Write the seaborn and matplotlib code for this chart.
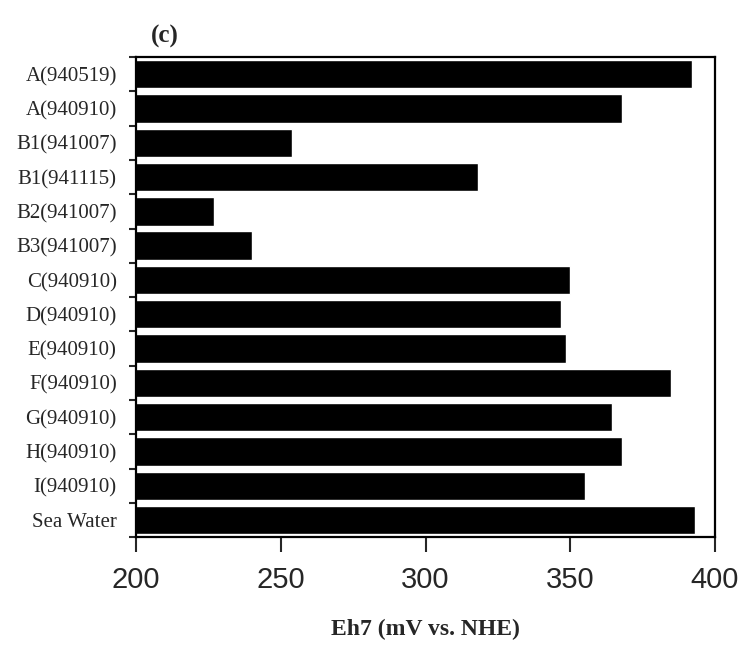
import numpy as np
import pandas as pd
import matplotlib
matplotlib.use("Agg")
import matplotlib.pyplot as plt
import seaborn as sns

# sample sites and Eh7 values (mV vs. NHE)
sites = ["A(940519)", "A(940910)", "B1(941007)", "B1(941115)", "B2(941007)",
         "B3(941007)", "C(940910)", "D(940910)", "E(940910)", "F(940910)",
         "G(940910)", "H(940910)", "I(940910)", "Sea Water"]
eh7 = [392, 368, 254, 318, 227, 240, 350, 347, 348.5, 385, 364.5, 368, 355, 393]
xticks = [200, 250, 300, 350, 400]

df = pd.DataFrame({"site": sites, "eh7": eh7})

sns.set_style("white")
plt.rcParams["font.family"] = ["Liberation Serif", "DejaVu Serif"]

fig = plt.figure(figsize=(7.4, 6.48), dpi=100)
ax = fig.add_axes([0.184, 0.171, 0.782, 0.741])

sns.barplot(data=df, x="eh7", y="site", orient="h", color="black",
            saturation=1, width=0.83, ax=ax)

ax.set_xlim(200, 400)
ax.set_ylim(len(sites) - 0.5, -0.5)
ax.set_xticks(xticks)
ax.set_xticklabels([str(t) for t in xticks], family="Liberation Sans", fontsize=21)
ax.tick_params(axis="x", direction="out", length=11, width=1.5, pad=10, bottom=True)

# y ticks sit between the bars, labels centred on bars
ax.set_yticks(np.arange(len(sites)))
ax.set_yticklabels(sites, fontsize=15)
ax.tick_params(axis="y", which="major", length=0, pad=14)
ax.set_yticks(np.arange(len(sites) + 1) - 0.5, minor=True)
ax.tick_params(axis="y", which="minor", direction="out", length=5, width=1.5, left=True)

for s in ax.spines.values():
    s.set_visible(True)
    s.set_color("black")
    s.set_linewidth(1.6)

ax.set_ylabel("")
ax.set_xlabel("Eh7 (mV vs. NHE)", fontsize=17, fontweight="bold", labelpad=18)
fig.text(0.223, 0.935, "(c)", fontsize=18, fontweight="bold", ha="center")

fig.savefig("out.png", dpi=100)
